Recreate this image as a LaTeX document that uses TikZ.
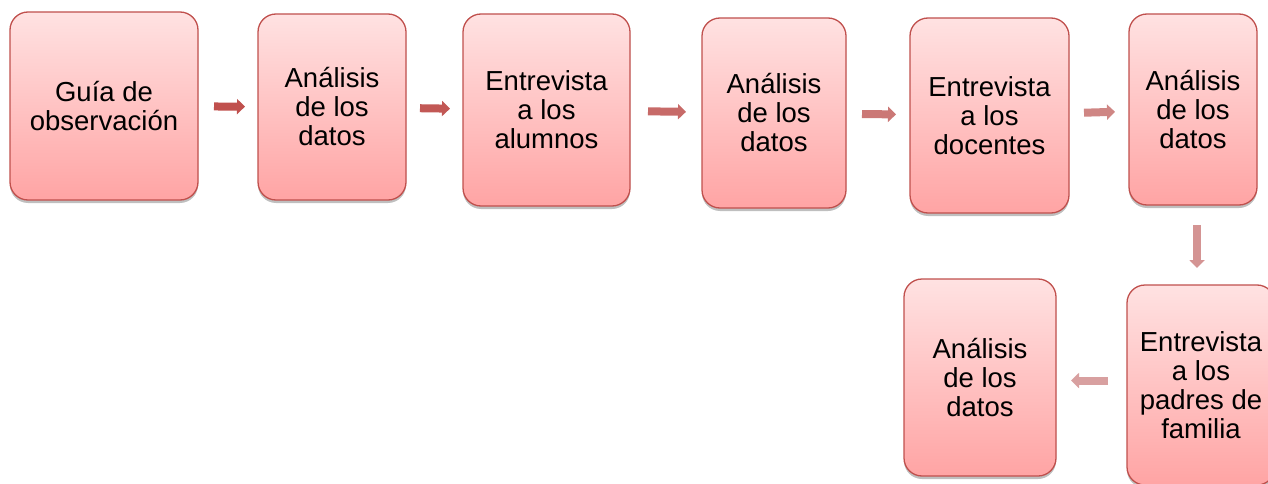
\documentclass[tikz,border=0pt]{standalone}
\usepackage{fontspec}
\setmainfont{Liberation Sans}
\usetikzlibrary{arrows.meta,positioning,shadows}

\definecolor{boxborder}{RGB}{192,80,77}
\definecolor{boxtop}{RGB}{255,226,226}
\definecolor{boxbottom}{RGB}{255,164,164}

\tikzset{
  paso/.style={rectangle,rounded corners=18pt,draw=boxborder,line width=1.3pt,
    top color=boxtop,bottom color=boxbottom,align=center,inner sep=0pt,outer sep=0pt,
    font=\fontsize{27.5}{29}\selectfont,
    drop shadow={shadow xshift=0pt,shadow yshift=-3pt,opacity=0.25,fill=black}},
  flecha/.style={line width=8pt,-{Triangle[length=8pt,width=15pt]}}
}

\begin{document}
\begin{tikzpicture}[x=1pt,y=1pt]
\useasboundingbox (0,0) rectangle (1268,483);
\node[paso,minimum width=188pt,minimum height=188pt] (b1) at (104,377) {Guía de\\observación};
\node[paso,minimum width=148pt,minimum height=186pt] (b2) [right=60pt of b1,yshift=-1pt] {Análisis\\de los\\datos};
\node[paso,minimum width=167pt,minimum height=192pt] (b3) [right=57pt of b2,yshift=-3pt] {Entrevista\\a los\\alumnos};
\node[paso,minimum width=144pt,minimum height=190pt] (b4) [right=72pt of b3,yshift=-3pt] {Análisis\\de los\\datos};
\node[paso,minimum width=159pt,minimum height=195pt] (b5) [right=64pt of b4,yshift=-2.5pt] {Entrevista\\a los\\docentes};
\node[paso,minimum width=128pt,minimum height=191pt] (b6) [right=60pt of b5,yshift=6pt] {Análisis\\de los\\datos};
\node[paso,minimum width=148pt,minimum height=200pt] (b7) [below=80pt of b6,xshift=8pt] {Entrevista\\a los\\padres de\\familia};
\node[paso,minimum width=152pt,minimum height=197pt] (b8) [left=71pt of b7,yshift=7.5pt] {Análisis\\de los\\datos};

\path[flecha]
  (b1) edge[draw={rgb,255:red,192;green,80;blue,77},shorten <=16pt,shorten >=13pt] (b2)
  (b2) edge[draw={rgb,255:red,194;green,88;blue,85},shorten <=14pt,shorten >=13pt] (b3)
  (b3) edge[draw={rgb,255:red,199;green,106;blue,104},shorten <=18pt,shorten >=16pt] (b4)
  (b4) edge[draw={rgb,255:red,203;green,120;blue,118},shorten <=16pt,shorten >=14pt] (b5)
  (b5) edge[draw={rgb,255:red,207;green,134;blue,132},shorten <=15pt,shorten >=14pt] (b6)
  ([xshift=4pt]b6.south) edge[draw={rgb,255:red,212;green,148;blue,147},shorten <=20pt,shorten >=17pt] ([xshift=4pt]b6.south |- b7.north)
  ([yshift=-3pt]b8.east -| b7.west) edge[draw={rgb,255:red,216;green,160;blue,160},shorten <=19pt,shorten >=15pt] ([yshift=-3pt]b8.east);
\end{tikzpicture}
\end{document}
